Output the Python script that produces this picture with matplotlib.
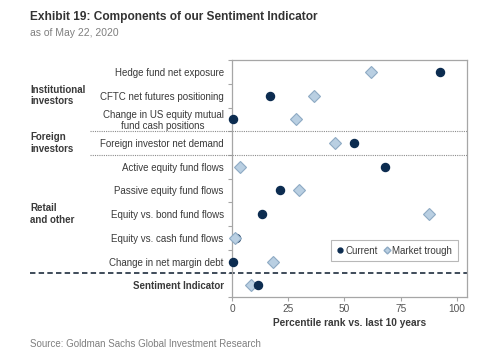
import matplotlib.pyplot as plt
from matplotlib.lines import Line2D
import matplotlib.transforms as mtransforms

plt.rcParams['font.family'] = ['Liberation Sans', 'DejaVu Sans']

labels = ['Hedge fund net exposure',
          'CFTC net futures positioning',
          'Change in US equity mutual\nfund cash positions',
          'Foreign investor net demand',
          'Active equity fund flows',
          'Passive equity fund flows',
          'Equity vs. bond fund flows',
          'Equity vs. cash fund flows',
          'Change in net margin debt',
          'Sentiment Indicator']
current = [92.4, 16.9, 0.4, 54.4, 68.0, 21.5, 13.2, 1.6, 0.3, 11.7]
trough = [61.8, 36.6, 28.4, 45.8, 3.6, 29.6, 87.7, 1.2, 18.4, 8.4]
groups = [('Institutional\ninvestors', 1), ('Foreign\ninvestors', 3), ('Retail\nand other', 6)]
xticks = [0, 25, 50, 75, 100]

navy = '#0c2c50'
light = '#b9cfe2'
light_edge = '#8eaac4'
grey = '#a6a6a6'
txt = '#3a3a3a'

fig = plt.figure(figsize=(5, 3.58), dpi=100)
ax = fig.add_axes([0.464, 0.170, 0.470, 0.662])

rows = list(range(len(labels)))
# components: trough on top, sentiment row: current on top
ax.plot(current[:-1], rows[:-1], 'o', ms=5.8, color=navy, zorder=3, clip_on=False, ls='none')
ax.plot(trough[:-1], rows[:-1], 'D', ms=6, mfc=light, mec=light_edge, mew=0.8, zorder=4, clip_on=False, ls='none')
ax.plot(trough[-1:], rows[-1:], 'D', ms=6, mfc=light, mec=light_edge, mew=0.8, zorder=3, clip_on=False, ls='none')
ax.plot(current[-1:], rows[-1:], 'o', ms=5.8, color=navy, zorder=4, clip_on=False, ls='none')

ax.set_xlim(0, 104.5)
ax.set_ylim(9.5, -0.5)
ax.set_xticks(xticks)
ax.set_xticklabels([str(v) for v in xticks])
ax.set_yticks(rows)
ax.set_yticklabels(labels, multialignment='center', linespacing=1.05)
for i, t in enumerate(ax.get_yticklabels()):
    if i == len(labels) - 1:
        t.set_fontweight('bold')
        t.set_color('#2b4668')
        t.set_fontsize(7.3)
ax.set_yticks([r - 0.5 for r in rows] + [9.5], minor=True)
ax.tick_params(axis='y', which='major', length=0, pad=6, labelsize=7, labelcolor=txt)
ax.tick_params(axis='y', which='minor', length=3, color=grey, width=0.8)
ax.tick_params(axis='x', length=3, color=grey, width=0.8, labelsize=7.3, labelcolor='#555555', pad=2)
for s in ax.spines.values():
    s.set_color(grey)
    s.set_linewidth(0.9)

ax.set_xlabel('Percentile rank vs. last 10 years', fontsize=7.3, fontweight='bold', color=txt, labelpad=3)

# group separators
tr = mtransforms.blended_transform_factory(ax.transAxes, ax.transData)
for y in [2.5, 3.5]:
    ax.plot([-0.605, 1], [y, y], transform=tr, color='#8c8c8c', lw=0.8, ls=(0, (1, 1)), clip_on=False, zorder=2)
ax.plot([-0.86, 1], [8.5, 8.5], transform=tr, color='#2f3d4c', lw=1.3, ls=(0, (3, 1.8)), clip_on=False, zorder=2)

for name, y in groups:
    ax.text(-0.86, y, name, transform=tr, fontsize=7, fontweight='bold', color=txt, va='center', ha='left')

handles = [Line2D([], [], marker='o', ls='none', ms=3.5, color=navy),
           Line2D([], [], marker='D', ls='none', ms=3.5, mfc=light, mec=light_edge)]
leg = ax.legend(handles, ['Current', 'Market trough'], loc='lower right', bbox_to_anchor=(0.983, 0.13),
                fontsize=7, frameon=True, fancybox=False, edgecolor=grey, handlelength=0.6,
                handletextpad=0.3, columnspacing=0.6, ncol=2, borderpad=0.6)
leg.get_frame().set_linewidth(0.8)
for t in leg.get_texts():
    t.set_color(txt)

fig.text(0.06, 0.945, 'Exhibit 19: Components of our Sentiment Indicator', fontsize=8.6, fontweight='bold',
         color='#333333', family=['Liberation Sans Narrow', 'Liberation Sans', 'DejaVu Sans'])
fig.text(0.06, 0.9, 'as of May 22, 2020', fontsize=7.5, color='#7f7f7f',
         family=['Liberation Sans Narrow', 'Liberation Sans', 'DejaVu Sans'])
fig.text(0.06, 0.03, 'Source: Goldman Sachs Global Investment Research', fontsize=7, color='#7f7f7f',
         family=['Liberation Sans Narrow', 'Liberation Sans', 'DejaVu Sans'])

fig.savefig('out.png', dpi=100)
